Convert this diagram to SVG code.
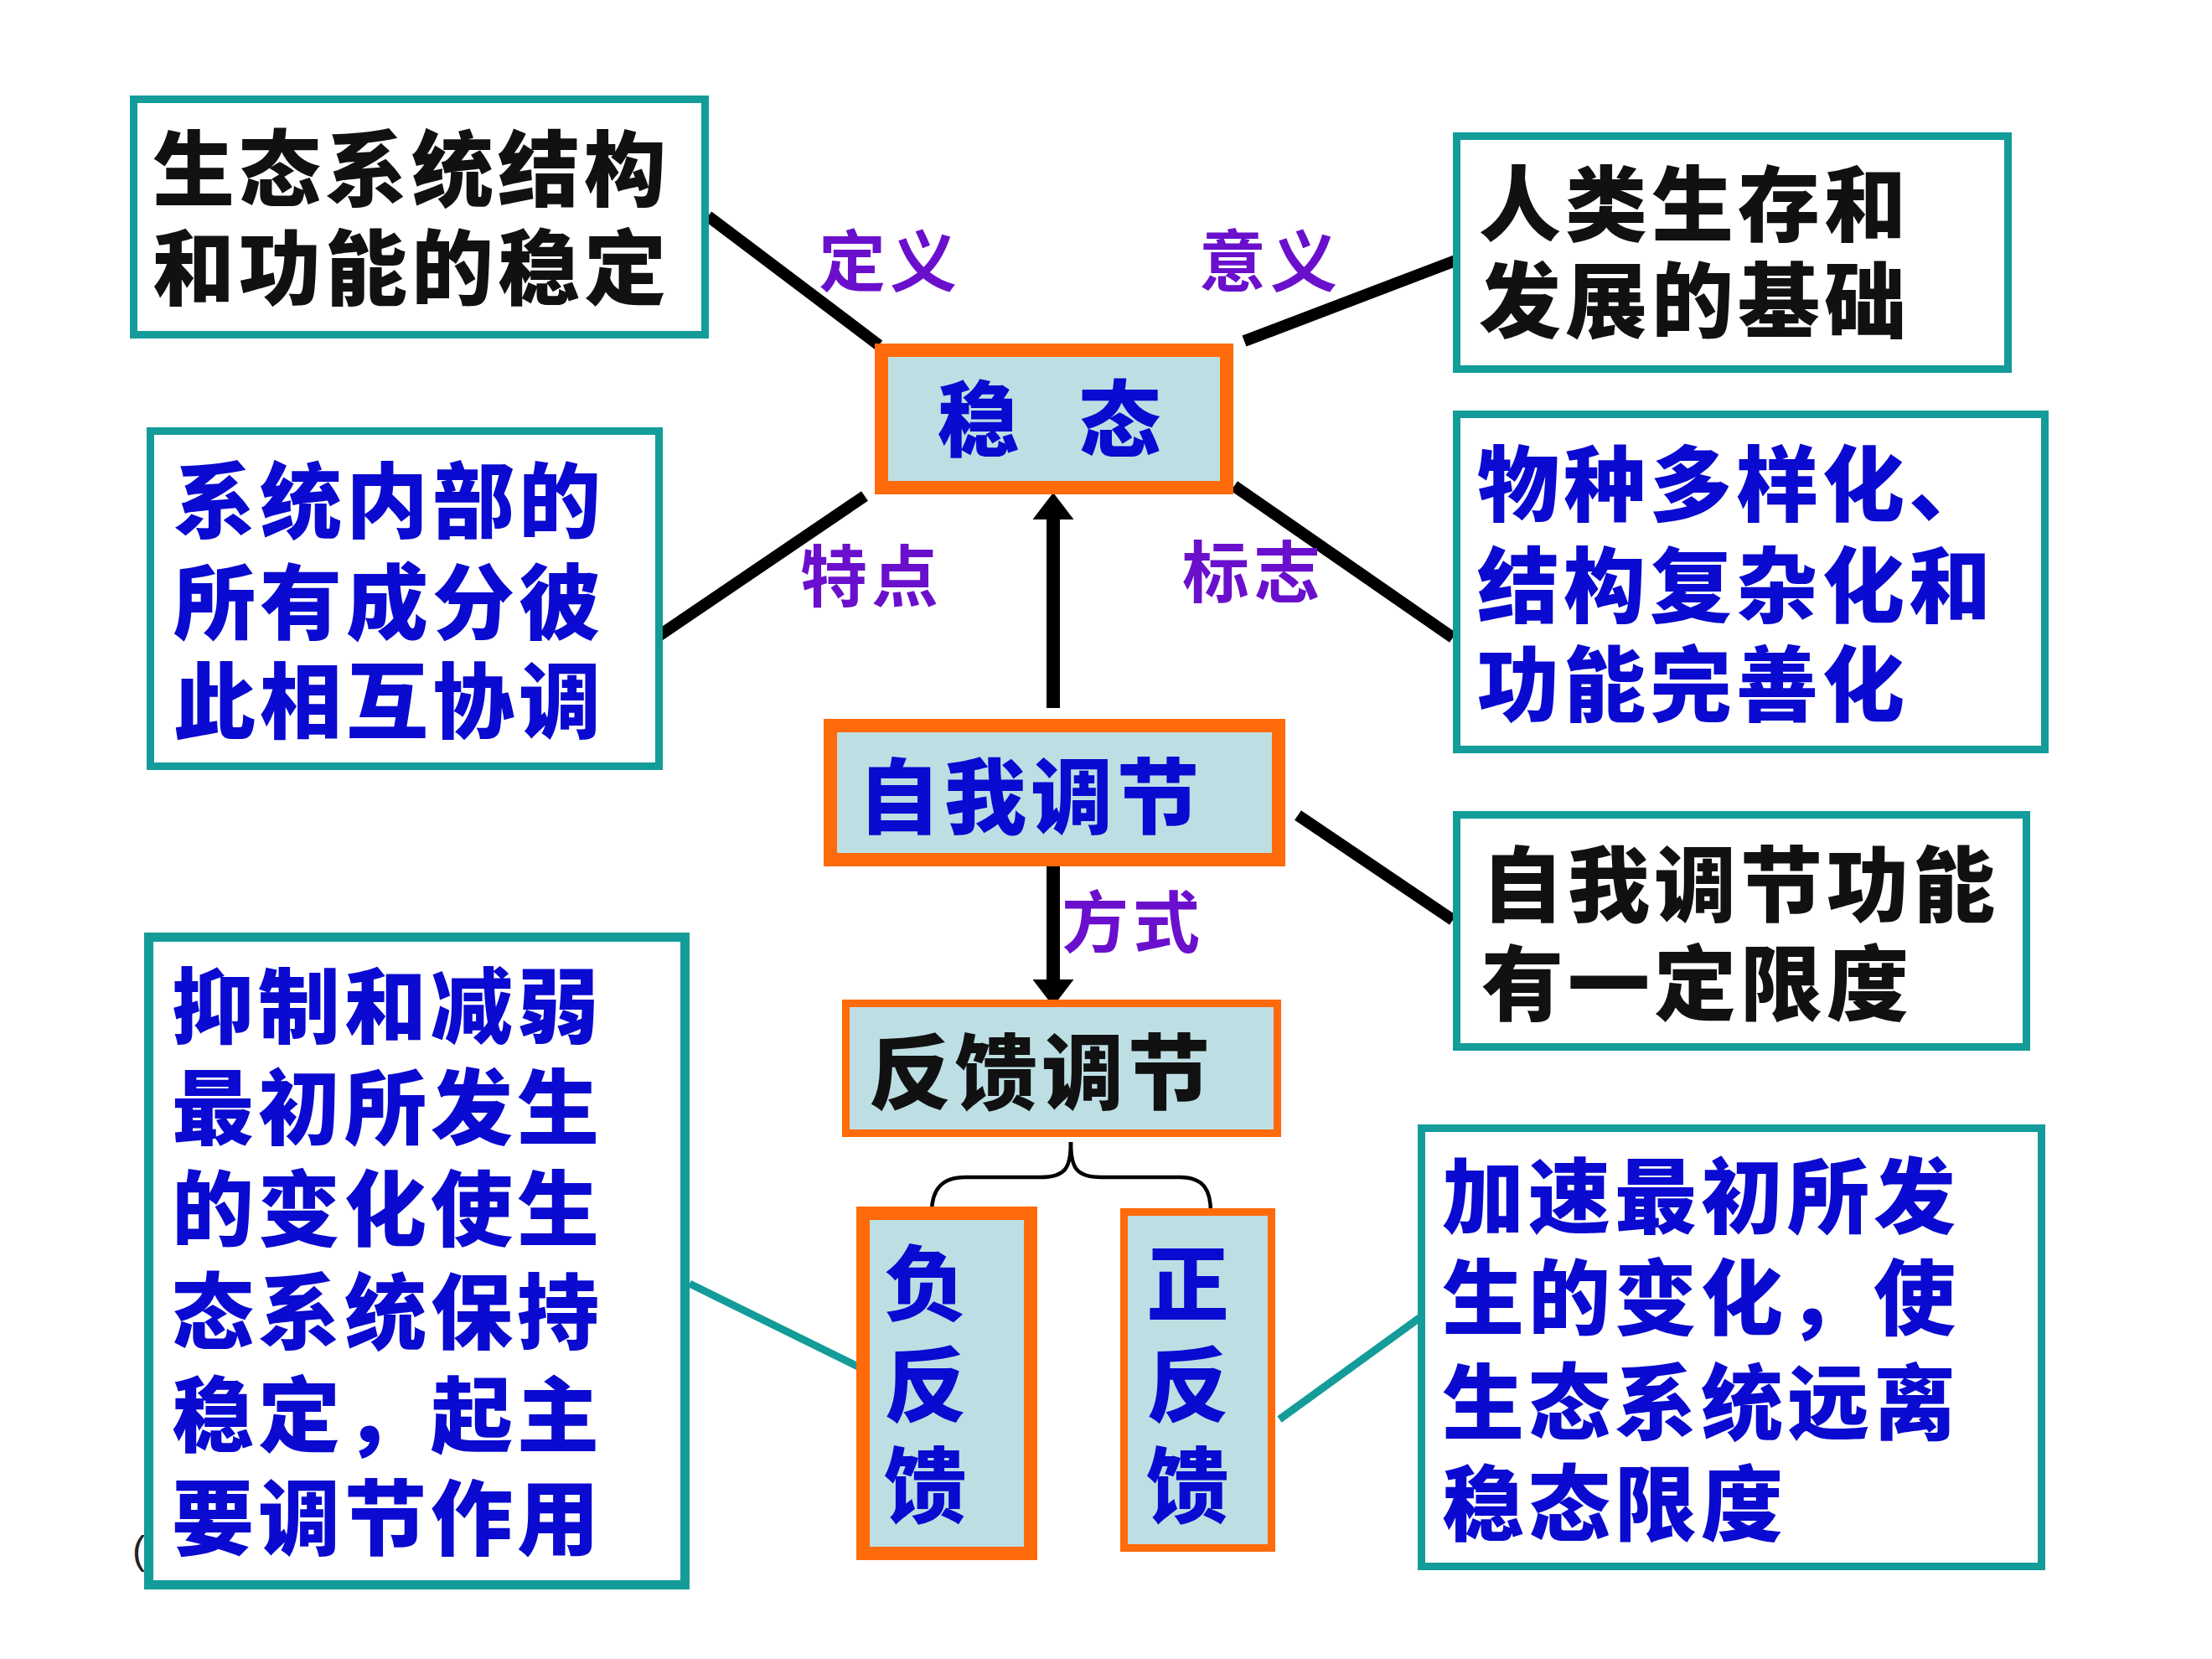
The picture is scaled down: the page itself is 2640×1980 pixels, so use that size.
<svg xmlns="http://www.w3.org/2000/svg" width="2640" height="1980" viewBox="0 0 2640 1980">
<defs>
<style>
.teal{fill:#ffffff;stroke:#139c99;stroke-width:9}
.tealw{fill:#ffffff;stroke:#139c99;stroke-width:11}
.orT{fill:#bddfe3;stroke:#ff6a0a;stroke-width:16}
.orN{fill:#bddfe3;stroke:#ff6a0a;stroke-width:9}
.t{font-family:"Noto Sans CJK SC","Noto Sans",sans-serif;font-weight:900;font-size:98px;letter-spacing:5px}
.blk{fill:#111111}
.blu{fill:#0a0ad0}
.lab{font-family:"Noto Sans CJK SC","Noto Sans",sans-serif;font-weight:700;font-size:80px;fill:#6a10cc;letter-spacing:5px}
.ln{stroke:#000000;stroke-width:14;fill:none}
.tl{stroke:#139c99;stroke-width:9;fill:none}
.ar{stroke:#000000;stroke-width:16;fill:none;marker-end:url(#ah)}
.br{stroke:#000000;stroke-width:4.5;fill:none}
</style>
<marker id="ah" viewBox="0 0 32 49" markerUnits="userSpaceOnUse" markerWidth="32" markerHeight="49" refX="14" refY="24.5" orient="auto">
<path d="M0,0 L32,24.5 L0,49 Z" fill="#000000"/>
</marker>
</defs>
<rect width="2640" height="1980" fill="#ffffff"/>
<g id="connectors">
<line class="ln" x1="845" y1="258" x2="1049" y2="412"/>
<line class="ln" x1="1485" y1="407" x2="1753" y2="305"/>
<line class="ln" x1="783" y1="761" x2="1032" y2="592"/>
<line class="ln" x1="1473" y1="580" x2="1734" y2="761"/>
<line class="ln" x1="1549" y1="973" x2="1734" y2="1098"/>
<line class="ar" x1="1257" y1="845" x2="1257" y2="606"/>
<line class="ar" x1="1257" y1="1034" x2="1257" y2="1183"/>
<path class="br" d="M1278,1363 C1278,1392 1273,1405 1242,1405 L1152,1405 C1122,1405 1112,1422 1112,1447"/>
<path class="br" d="M1278,1363 C1278,1392 1283,1405 1314,1405 L1408,1405 C1438,1405 1445,1422 1445,1447"/>
<line class="tl" x1="823" y1="1532" x2="1024" y2="1631"/>
<line class="tl" x1="1527" y1="1694" x2="1694" y2="1573"/>
</g>
<g id="label-dingyi"><text class="lab" x="977" y="341">定义</text></g>
<g id="label-yiyi"><text class="lab" x="1431" y="341">意义</text></g>
<g id="label-tedian"><text class="lab" x="955" y="717">特点</text></g>
<g id="label-biaozhi"><text class="lab" x="1411" y="712">标志</text></g>
<g id="label-fangshi"><text class="lab" x="1267" y="1130">方式</text></g>
<g id="node-definition">
<rect class="teal" x="159.5" y="118.5" width="682" height="281"/>
<text class="t blk" x="182" y="238">生态系统结构</text>
<text class="t blk" x="182" y="356">和功能的稳定</text>
</g>
<g id="node-meaning">
<rect class="teal" x="1738.5" y="162.5" width="658" height="278"/>
<text class="t blk" x="1765" y="280">人类生存和</text>
<text class="t blk" x="1765" y="395">发展的基础</text>
</g>
<g id="node-steady">
<rect class="orT" x="1052" y="418" width="412" height="164"/>
<text class="t blu" x="1170" y="537" text-anchor="middle" font-size="92" letter-spacing="0">稳</text>
<text class="t blu" x="1339" y="537" text-anchor="middle" font-size="92" letter-spacing="0">态</text>
</g>
<g id="node-feature">
<rect class="teal" x="179.5" y="514.5" width="607" height="400"/>
<text class="t blu" x="207" y="634">系统内部的</text>
<text class="t blu" x="207" y="755">所有成分彼</text>
<text class="t blu" x="207" y="873">此相互协调</text>
</g>
<g id="node-sign">
<rect class="teal" x="1738.5" y="494.5" width="702" height="400"/>
<text class="t blu" x="1763" y="614">物种多样化、</text>
<text class="t blu" x="1763" y="735">结构复杂化和</text>
<text class="t blu" x="1763" y="853">功能完善化</text>
</g>
<g id="node-selfreg">
<rect class="orT" x="991" y="866" width="535" height="160"/>
<text class="t blu" x="1024" y="987">自我调节</text>
</g>
<g id="node-limit">
<rect class="teal" x="1738.5" y="972.5" width="680" height="277"/>
<text class="t blk" x="1768" y="1092">自我调节功能</text>
<text class="t blk" x="1768" y="1210">有一定限度</text>
</g>
<g id="node-feedback">
<rect class="orN" x="1009.5" y="1197.5" width="515" height="155"/>
<text class="t blk" x="1037" y="1316">反馈调节</text>
</g>
<g id="node-negdesc">
<text x="158" y="1866" font-family="Liberation Sans,sans-serif" font-size="46" fill="#222222">(</text>
<rect class="tealw" x="177.5" y="1118.5" width="640" height="773"/>
<text class="t blu" x="205" y="1237">抑制和减弱</text>
<text class="t blu" x="205" y="1358">最初所发生</text>
<text class="t blu" x="205" y="1479">的变化使生</text>
<text class="t blu" x="205" y="1602">态系统保持</text>
<text class="t blu" x="205" y="1725">稳定，起主</text>
<text class="t blu" x="205" y="1848">要调节作用</text>
</g>
<g id="node-negative">
<rect class="orT" x="1030" y="1448" width="200" height="406"/>
<text class="t blu" x="1107" y="1568" text-anchor="middle" letter-spacing="0">负</text>
<text class="t blu" x="1107" y="1689" text-anchor="middle" letter-spacing="0">反</text>
<text class="t blu" x="1107" y="1809" text-anchor="middle" letter-spacing="0">馈</text>
</g>
<g id="node-positive">
<rect class="orN" x="1341.5" y="1446.5" width="176" height="401"/>
<text class="t blu" x="1420" y="1568" text-anchor="middle" letter-spacing="0">正</text>
<text class="t blu" x="1420" y="1689" text-anchor="middle" letter-spacing="0">反</text>
<text class="t blu" x="1420" y="1809" text-anchor="middle" letter-spacing="0">馈</text>
</g>
<g id="node-posdesc">
<rect class="teal" x="1696.5" y="1346.5" width="740" height="523"/>
<text class="t blu" x="1721" y="1464">加速最初所发</text>
<text class="t blu" x="1721" y="1585">生的变化，使</text>
<text class="t blu" x="1721" y="1710">生态系统远离</text>
<text class="t blu" x="1721" y="1831">稳态限度</text>
</g>
</svg>
